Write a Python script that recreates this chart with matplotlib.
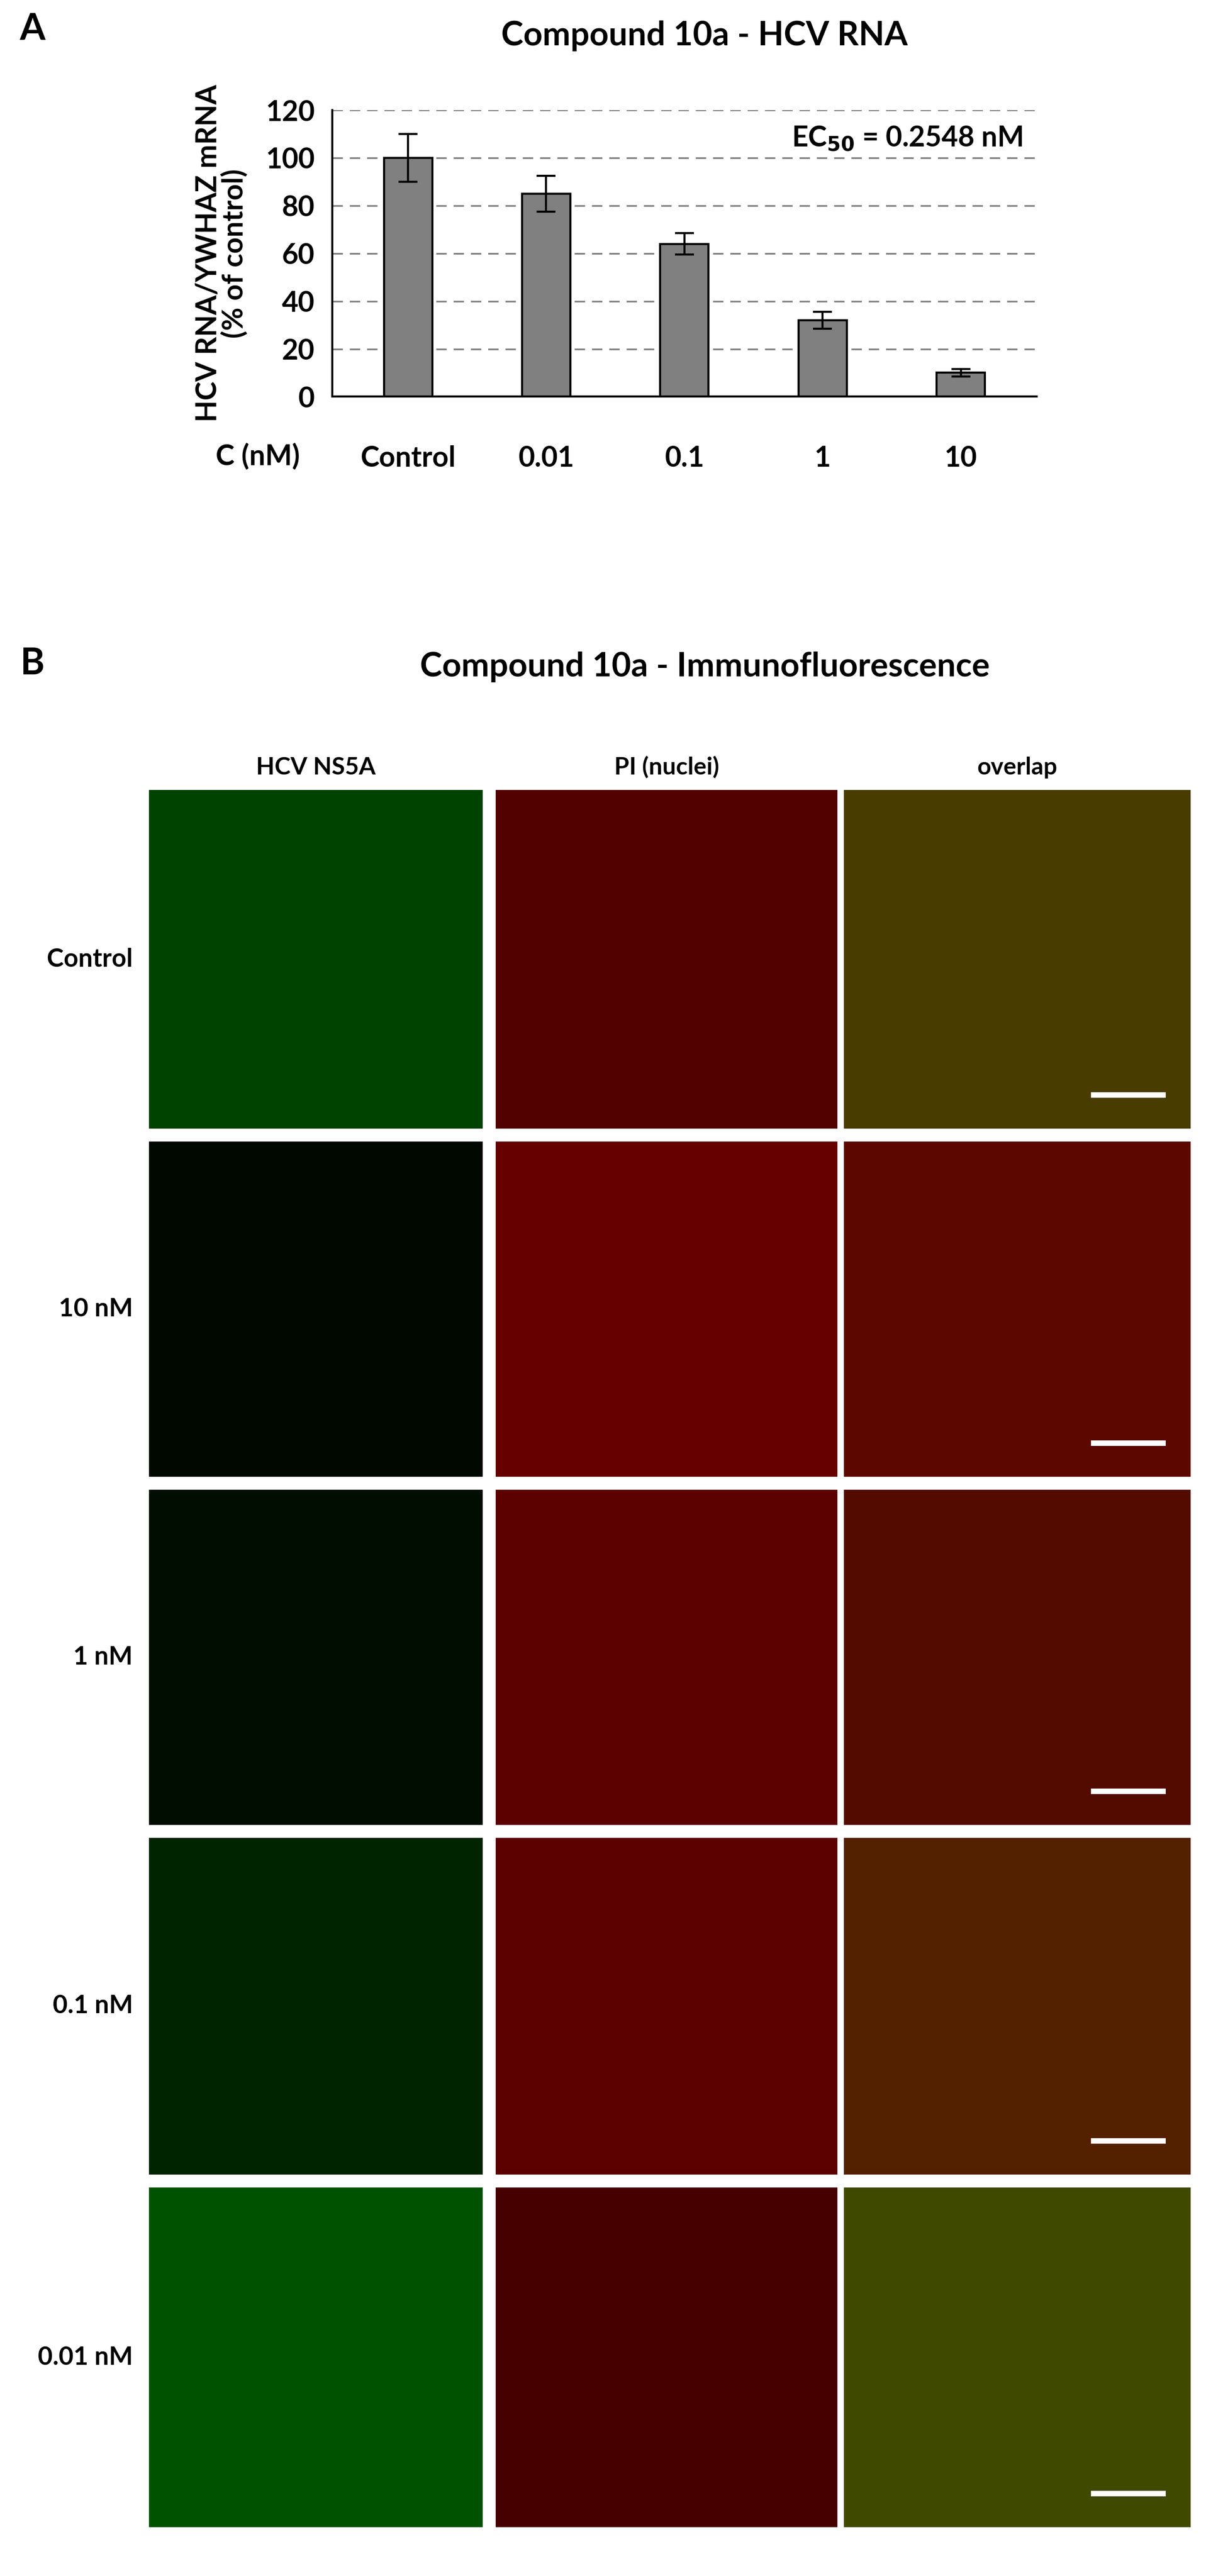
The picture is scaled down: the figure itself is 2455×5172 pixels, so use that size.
import matplotlib
matplotlib.use("Agg")
import matplotlib.pyplot as plt

plt.rcParams['font.family'] = ['Lato', 'DejaVu Sans']

categories = ["Control", "0.01", "0.1", "1", "10"]
values = [100, 85, 64, 32, 10]
errors = [10, 7.5, 4.5, 3.5, 1.5]
row_labels = ["Control", "10 nM", "1 nM", "0.1 nM", "0.01 nM"]
col_labels = ["HCV NS5A", "PI (nuclei)", "overlap"]
# approximate mean panel colours (green signal, red signal)
green_level = [0.26, 0.03, 0.05, 0.14, 0.32]
red_level = [0.32, 0.40, 0.36, 0.36, 0.28]

W, H = 755.0, 1591.0
fig = plt.figure(figsize=(24.55, 51.72), dpi=100)
fs = 2455/755
F = 17 * fs / 1.35

def fx(x): return x / W
def fy(y): return 1 - y / H

ax = fig.add_axes([fx(205), fy(245), fx(640) - fx(205), fy(68) - fy(245)])
x = range(len(categories))
ax.bar(x, values, width=0.35, color="#808080", edgecolor="black", linewidth=3, zorder=3)
ax.errorbar(x, values, yerr=errors, fmt="none", ecolor="black", elinewidth=3, capsize=14, capthick=3, zorder=4)
ax.set_ylim(0, 120)
ax.set_xlim(-0.55, 4.55)
ax.set_yticks(range(0, 121, 20))
ax.set_xticks(list(x))
ax.set_xticklabels(categories, fontsize=F, fontweight="bold")
ax.tick_params(axis="y", labelsize=F, width=2, length=0, pad=25)
ax.tick_params(axis="x", length=0, pad=70)
for t in ax.get_yticklabels(): t.set_fontweight("bold")
ax.yaxis.grid(True, linestyle=(0, (6, 4)), color="#808080", linewidth=2.5, zorder=0)
for s in ["top", "right"]: ax.spines[s].set_visible(False)
ax.spines["left"].set_linewidth(3)
ax.spines["bottom"].set_linewidth(3)
ax.set_ylabel("HCV RNA/YWHAZ mRNA\n(% of control)", fontsize=F, fontweight="bold", labelpad=25, linespacing=1.0)
ax.text(0.98, 0.9, r"EC$_{\mathbf{50}}$ = 0.2548 nM", transform=ax.transAxes, ha="right", va="center",
        fontsize=F, fontweight="bold")
fig.text(fx(185), fy(282), "C (nM)", fontsize=F, fontweight="bold", ha="right", va="center")
fig.text(fx(435), fy(22), "Compound 10a - HCV RNA", fontsize=F * 1.18, fontweight="bold", ha="center", va="center")
fig.text(fx(20), fy(18), "A", fontsize=F * 1.3, fontweight="bold", ha="center", va="center")

fig.text(fx(20), fy(410), "B", fontsize=F * 1.3, fontweight="bold", ha="center", va="center")
fig.text(fx(435), fy(412), "Compound 10a - Immunofluorescence", fontsize=F * 1.18, fontweight="bold", ha="center", va="center")

cols = [(92, 298), (306, 517), (521, 735)]
rows = [(488, 697), (705, 912), (920, 1127), (1135, 1343), (1351, 1561)]
for j, (c0, c1) in enumerate(cols):
    fig.text(fx((c0 + c1) / 2), fy(474), col_labels[j], fontsize=F * 0.85, fontweight="bold", ha="center", va="center")
for i, (r0, r1) in enumerate(rows):
    fig.text(fx(82), fy((r0 + r1) / 2), row_labels[i], fontsize=F * 0.9, fontweight="bold", ha="right", va="center")
    g, r = green_level[i], red_level[i]
    colors = [(0, g, 0), (r, 0, 0), (r * 0.9, g * 0.9, 0)]
    for j, (c0, c1) in enumerate(cols):
        pax = fig.add_axes([fx(c0), fy(r1), fx(c1) - fx(c0), fy(r0) - fy(r1)])
        pax.set_facecolor(colors[j])
        pax.set_xticks([]); pax.set_yticks([])
        for s in pax.spines.values(): s.set_visible(False)
        if j == 2:
            pax.plot([0.72, 0.92], [0.1, 0.1], color="white", linewidth=8, transform=pax.transAxes)

fig.savefig("out.png", dpi=100)
